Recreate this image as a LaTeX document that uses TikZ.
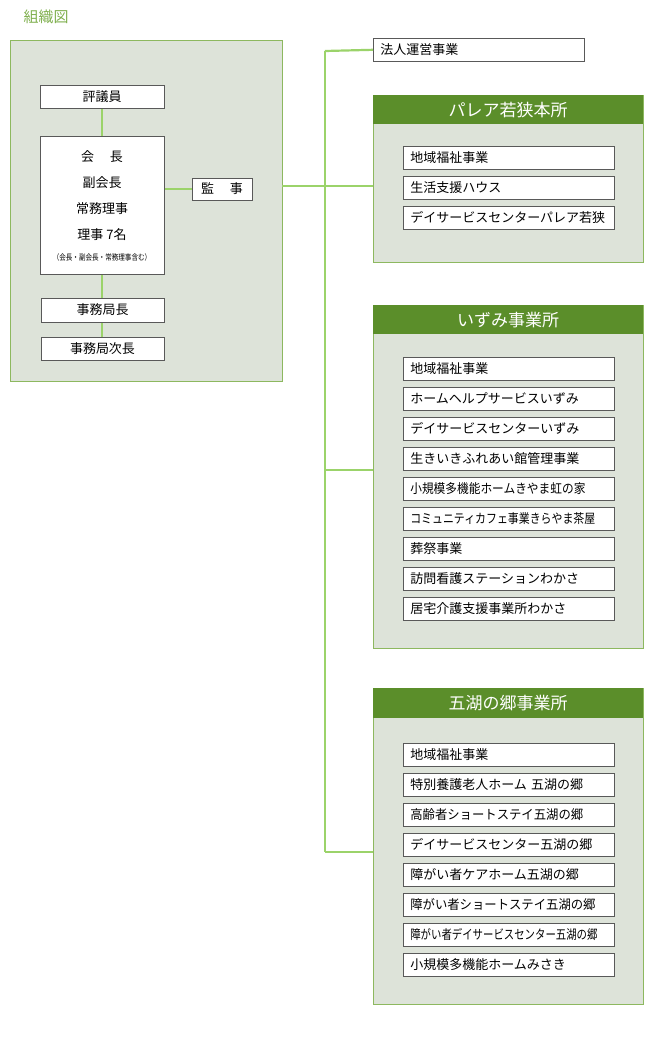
\documentclass[tikz,border=0pt]{standalone}
\usepackage{fontspec}
\setmainfont{Noto Sans CJK JP}
\definecolor{lineG}{HTML}{9BD36A}
\definecolor{frameG}{HTML}{8DB85F}
\definecolor{headG}{HTML}{5B8E2A}
\definecolor{panelG}{HTML}{DDE3D9}
\definecolor{titleG}{HTML}{7FAF4E}
\tikzset{
  link/.style={draw=lineG,line width=2.2pt},
  panel/.style={draw=frameG,fill=panelG,line width=0.8pt},
  head/.style={fill=headG,text=white,font=\fontsize{17}{17}\selectfont},
  itembox/.style={draw=black!65,fill=white,line width=0.6pt,anchor=north west,
    minimum width=211pt,minimum height=23pt,text width=197pt,inner xsep=7pt,
    align=left,font=\fontsize{13}{13}\selectfont},
  orgbox/.style={draw=black!65,fill=white,line width=0.6pt,
    font=\fontsize{13}{13}\selectfont}
}
\begin{document}
\begin{tikzpicture}[x=1pt,y=-1pt]
  \useasboundingbox (0,0) rectangle (649,1045);
  \node[text=titleG,anchor=west,font=\fontsize{15}{15}\selectfont] (title) at (20,17) {組織図};

  % left panel
  \draw[panel] (10,40) rectangle (282,381);
  \draw[link] (102,108) -- (102,337);
  \draw[link] (164,189) -- (192,189);
  \node[orgbox,minimum width=124pt,minimum height=23pt] (hyo) at (102,96.5) {評議員};
  \node[orgbox,minimum width=124pt,minimum height=138pt] (riji) at (102,205) {};
  \node (r1) at (102,157) {\fontsize{13}{13}\selectfont 会\hspace{1.2em}長};
  \node (r2) at (102,183) {\fontsize{13}{13}\selectfont 副会長};
  \node (r3) at (102,209) {\fontsize{13}{13}\selectfont 常務理事};
  \node (r4) at (102,235) {\fontsize{13}{13}\selectfont 理事 7名};
  \node (r5) at (102,257) {\fontsize{8}{8}\selectfont\scalebox{0.82}[1]{（会長・副会長・常務理事含む）}};
  \node[orgbox,minimum width=60pt,minimum height=22pt] (kan) at (222,189) {監\hspace{1.2em}事};
  \node[orgbox,minimum width=123pt,minimum height=24pt] (kyoku) at (102.5,310) {事務局長};
  \node[orgbox,minimum width=123pt,minimum height=23pt] (jicho) at (102.5,348.5) {事務局次長};

  % trunk
  \coordinate (t0) at (325,51);
  \coordinate (t1) at (325,186);
  \coordinate (t2) at (325,470);
  \coordinate (t3) at (325,852);
  \draw[link] (282,186) -- (t1);
  \draw[link] (t0) -- (t3);

  \node[orgbox,anchor=north west,minimum width=211pt,minimum height=23pt,
    text width=197pt,inner xsep=7pt,align=left] (hojin) at (373,38) {法人運営事業};
  \draw[link] (t0) -- (hojin.west);

  % パレア若狭本所
  \draw[panel] (373,95) rectangle (643,262);
  \node[head,minimum width=270pt,minimum height=29pt,anchor=north west] (pal) at (373,95) {パレア若狭本所};
  \draw[link] (t1) -- (373,186);
  \node[itembox] (p1) at (403,146) {地域福祉事業};
  \node[itembox] (p2) at (403,176) {生活支援ハウス};
  \node[itembox] (p3) at (403,206) {デイサービスセンターパレア若狭};

  % いずみ事業所
  \draw[panel] (373,305) rectangle (643,648);
  \node[head,minimum width=270pt,minimum height=29pt,anchor=north west] (izu) at (373,305) {いずみ事業所};
  \draw[link] (t2) -- (373,470);
  \foreach \t [count=\i] in {地域福祉事業,ホームヘルプサービスいずみ,デイサービスセンターいずみ,
      生きいきふれあい館管理事業,{\scalebox{0.9}[1]{小規模多機能ホームきやま虹の家}},
      {\scalebox{0.84}[1]{コミュニティカフェ事業きらやま茶屋}},葬祭事業,
      訪問看護ステーションわかさ,居宅介護支援事業所わかさ}
    \node[itembox] (i\i) at (403,327+30*\i) {\t};

  % 五湖の郷事業所
  \draw[panel] (373,688) rectangle (643,1004);
  \node[head,minimum width=270pt,minimum height=30pt,anchor=north west] (goko) at (373,688) {五湖の郷事業所};
  \draw[link] (t3) -- (373,852);
  \foreach \t [count=\i] in {地域福祉事業,特別養護老人ホーム 五湖の郷,
      {\scalebox{0.95}[1]{高齢者ショートステイ五湖の郷}},デイサービスセンター五湖の郷,
      障がい者ケアホーム五湖の郷,{\scalebox{0.95}[1]{障がい者ショートステイ五湖の郷}},
      {\scalebox{0.8}[1]{障がい者デイサービスセンター五湖の郷}},小規模多機能ホームみさき}
    \node[itembox] (g\i) at (403,713+30*\i) {\t};
\end{tikzpicture}
\end{document}
